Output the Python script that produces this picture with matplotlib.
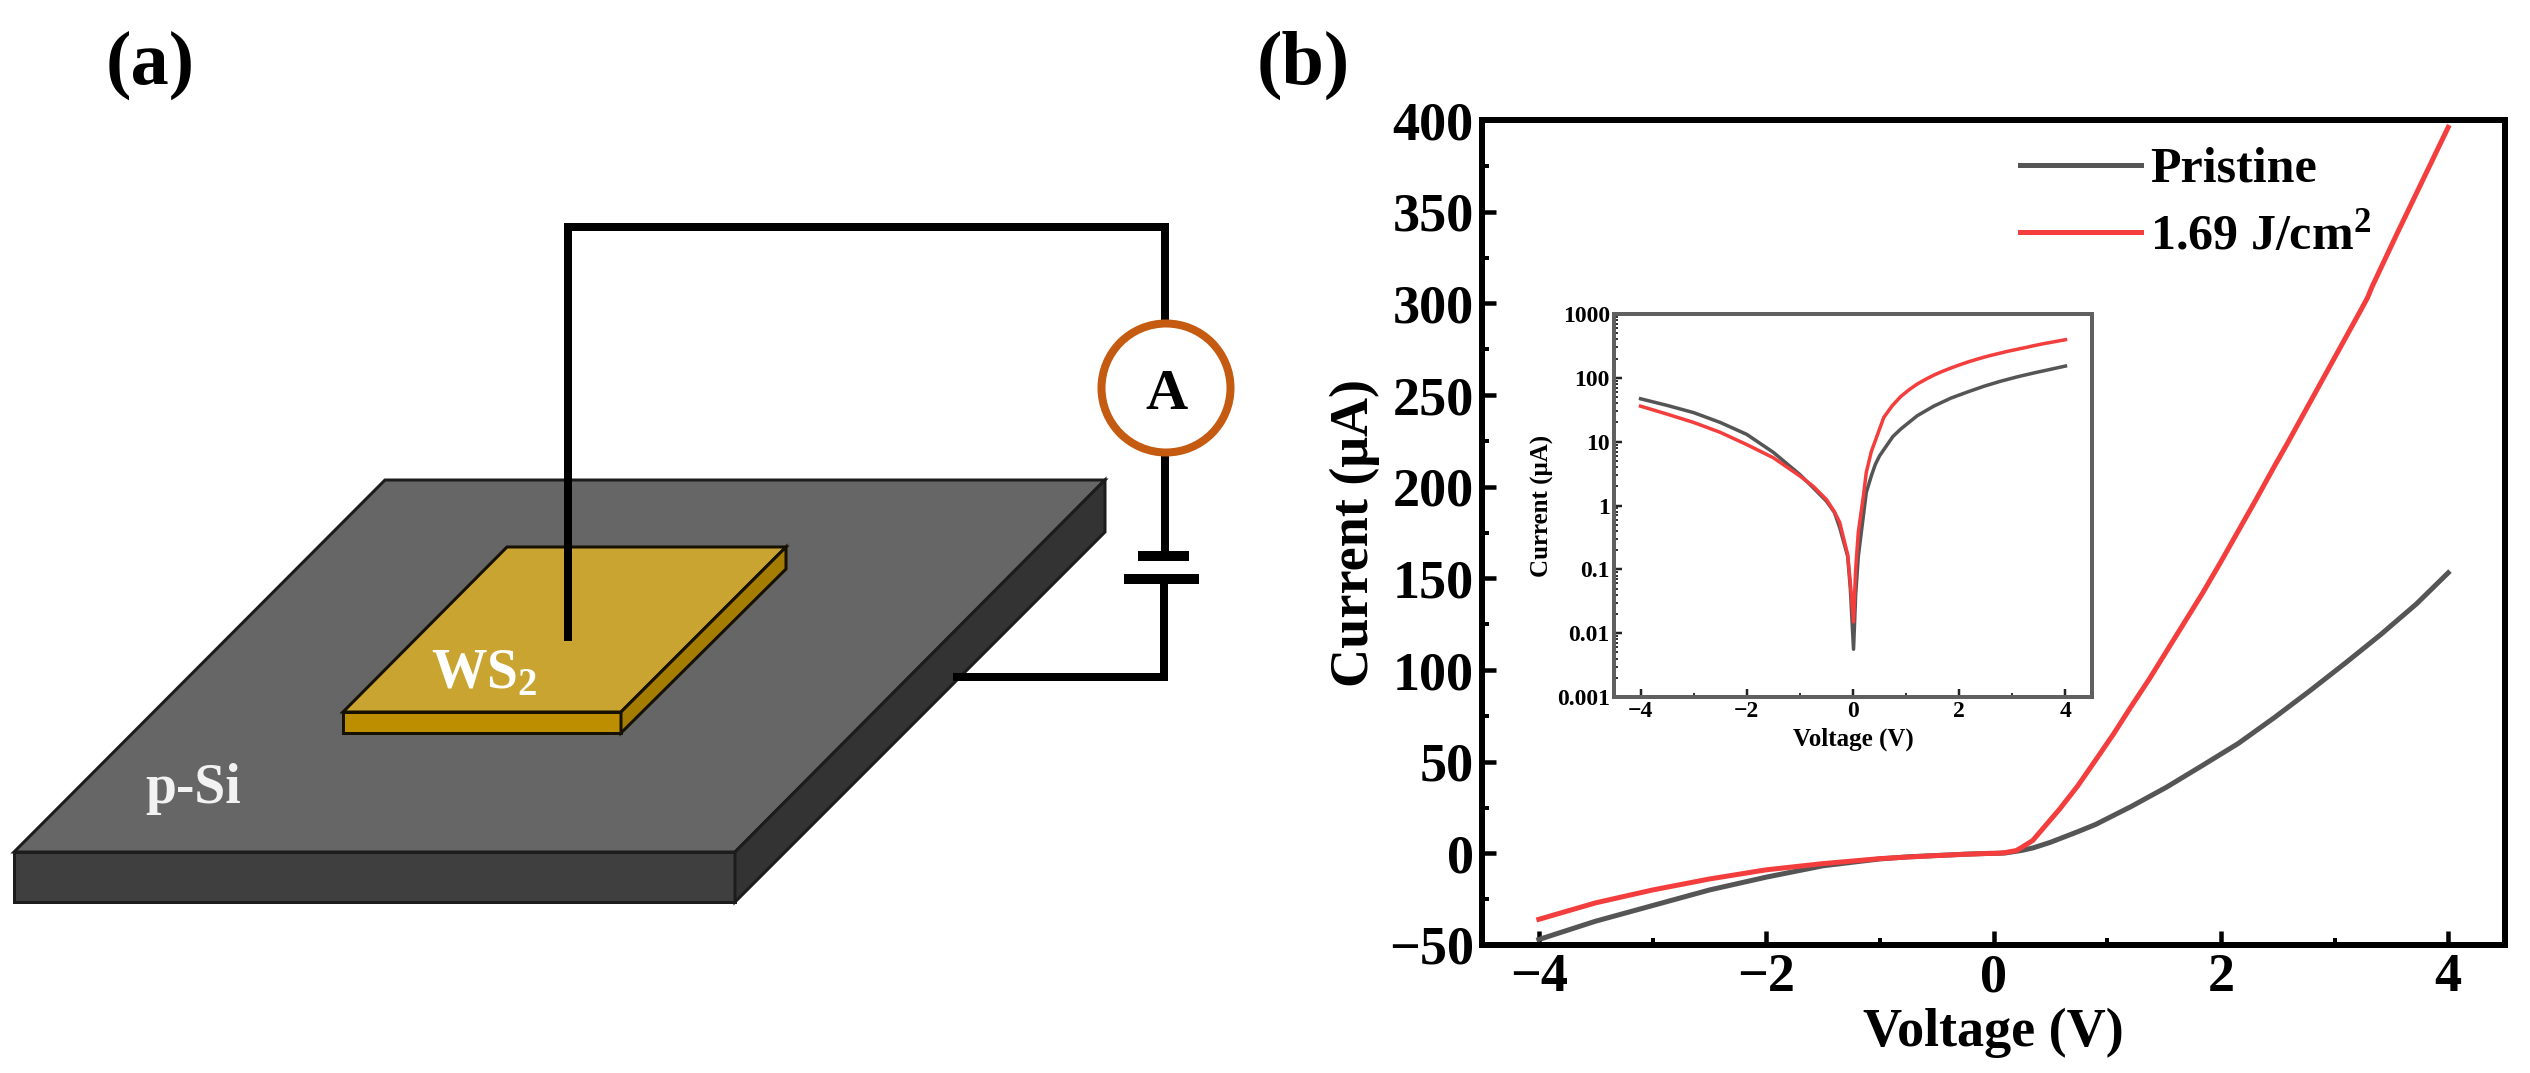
import numpy as np
import matplotlib.pyplot as plt
from matplotlib.patches import Polygon, Circle, Rectangle

plt.rcParams['font.family'] = ['Liberation Serif', 'DejaVu Sans']
plt.rcParams['font.weight'] = 'bold'
plt.rcParams['axes.labelweight'] = 'bold'
plt.rcParams['mathtext.fontset'] = 'custom'
plt.rcParams['mathtext.rm'] = 'Liberation Serif:bold'
plt.rcParams['mathtext.bf'] = 'Liberation Serif:bold'
plt.rcParams['mathtext.default'] = 'bf'

W, H = 2530, 1073
PX = 0.72  # one pixel in points at dpi 100

# I-V data (uA)
v_pristine = [-4, -3.5, -3, -2.5, -2, -1.5, -1, -0.75, -0.5, -0.35, -0.25, -0.1, -0.05, 0.01, 0.05,
              0.1, 0.25, 0.35, 0.42, 0.5, 0.75, 0.9, 1.21, 1.52, 1.84, 2.155, 2.47, 2.78, 3.1,
              3.41, 3.72, 4]
i_pristine = [-47, -37, -28.5, -20, -13, -6.8, -3.05, -1.9, -1.17, -0.78, -0.45, -0.16, -0.05,
              -0.0056, 0.04, 0.16, 1.6, 3, 4.4, 6, 12, 15.8, 25.5, 36, 48, 60, 74, 88.5, 104,
              119.5, 136, 153]
v_treated = [-4, -3.5, -3, -2.5, -2, -1.5, -1, -0.75, -0.5, -0.35, -0.25, -0.1, -0.05, 0.01, 0.05,
             0.1, 0.2, 0.25, 0.345, 0.58, 0.74, 0.9, 1.055, 1.21, 1.37, 1.52, 1.68, 1.84, 2,
             2.155, 2.31, 2.47, 2.58, 2.9, 3.22, 3.29, 3.33, 3.55, 4]
i_treated = [-36, -27, -20, -14, -9, -5.6, -2.9, -2, -1.24, -0.8, -0.54, -0.17, -0.06, -0.015, 0.1,
             0.38, 1.5, 3.3, 7, 24, 36.7, 51, 65, 80, 95, 110, 126, 142, 159, 176, 193, 211, 223,
             259, 295, 303, 309, 338, 396]

labels = ['Pristine', '1.69 J/cm$^{2}$']
gray = '#555555'
red = '#f43d3d'

# schematic geometry of panel (a), pixels of the picture
plate_top = [(385, 480), (1105, 480), (735, 852), (14, 852)]
plate_front = [(14, 852), (735, 852), (735, 902), (14, 902)]
plate_side = [(735, 852), (1105, 480), (1105, 532), (735, 902)]
ws2_top = [(507, 547), (786, 547), (621, 712), (343, 712)]
ws2_front = [(343, 712), (621, 712), (621, 733), (343, 733)]
ws2_side = [(621, 712), (786, 547), (786, 569), (621, 733)]
wire_upper = [(568, 641), (568, 227), (1165, 227), (1165, 551)]
wire_lower = [(1164, 580), (1164, 677), (953, 677)]

fig = plt.figure(figsize=(W / 100, H / 100), dpi=100)

# panel (a) in picture pixels
bg = fig.add_axes([0, 0, 1, 1])
bg.set_xlim(0, W)
bg.set_ylim(H, 0)
bg.axis('off')

for pts, col in [(plate_top, '#666666'), (plate_front, '#3f3f3f'), (plate_side, '#333333')]:
    bg.add_patch(Polygon(pts, closed=True, fc=col, ec='#1c1c1c', lw=3 * PX, joinstyle='miter'))
for pts, col in [(ws2_top, '#c9a430'), (ws2_front, '#bd8f00'), (ws2_side, '#a37c00')]:
    bg.add_patch(Polygon(pts, closed=True, fc=col, ec='#151000', lw=3 * PX, joinstyle='miter'))

for wire in (wire_upper, wire_lower):
    xs, ys = zip(*wire)
    bg.plot(xs, ys, color='black', lw=8 * PX, solid_capstyle='butt', solid_joinstyle='miter')

# battery plates
bg.add_patch(Rectangle((1138, 551), 51, 10, fc='black', ec='none'))
bg.add_patch(Rectangle((1124, 574), 75, 10, fc='black', ec='none'))

# ammeter
bg.add_patch(Circle((1166, 388), 64.5, fc='white', ec='#c55a11', lw=8 * PX, zorder=5))
bg.text(1166, 409, 'A', fontsize=42, ha='center', va='baseline', zorder=6)

bg.text(431, 688, 'WS$_{2}$', fontsize=40, color='white', ha='left', va='baseline')
bg.text(145, 803, 'p-Si', fontsize=40, color='#f2f2f2', ha='left', va='baseline')
bg.text(150, 84, '(a)', fontsize=55, ha='center', va='baseline')
bg.text(1303, 84, '(b)', fontsize=55, ha='center', va='baseline')

# panel (b)
ax = fig.add_axes([1482 / W, 1 - 945 / H, (2505 - 1482) / W, (945 - 120) / H])
ax.patch.set_alpha(0)
ax.plot(v_pristine, i_pristine, color=gray, lw=5 * PX, label=labels[0])
ax.plot(v_treated, i_treated, color=red, lw=5 * PX, label=labels[1])
ax.set_xlim(-4.5, 4.5)
ax.set_ylim(-50, 400)
ax.set_xticks([-4, -2, 0, 2, 4])
ax.set_xticks([-3, -1, 1, 3], minor=True)
ax.set_yticks(np.arange(-50, 401, 50))
ax.set_yticks(np.arange(-25, 400, 50), minor=True)
ax.tick_params(which='major', direction='in', length=14 * PX, width=4.5 * PX, labelsize=39, pad=6)
ax.tick_params(which='minor', direction='in', length=7 * PX, width=4 * PX)
for s in ax.spines.values():
    s.set_linewidth(6 * PX)
ax.set_xlabel('Voltage (V)', fontsize=39, labelpad=3)
ax.set_ylabel('Current (μA)', fontsize=39, labelpad=6)

ax.legend(loc='upper left', bbox_to_anchor=(2020 / W, 1 - 147 / H), bbox_transform=fig.transFigure,
          frameon=False, fontsize=36, handlelength=2.42, handletextpad=0.18, labelspacing=0.42,
          borderpad=0, borderaxespad=0)

# inset, log scale of |I|
ins = fig.add_axes([1614 / W, 1 - 697 / H, (2092 - 1614) / W, (697 - 314) / H])
ins.plot(v_pristine, np.abs(i_pristine), color=gray, lw=3.5 * PX)
ins.plot(v_treated, np.abs(i_treated), color=red, lw=3.5 * PX)
ins.set_yscale('log')
ins.set_xlim(-4.5, 4.5)
ins.set_ylim(0.001, 1000)
ins.set_xticks([-4, -2, 0, 2, 4])
ins.set_xticks([-3, -1, 1, 3], minor=True)
ins.set_yticks([0.001, 0.01, 0.1, 1, 10, 100, 1000])
ins.set_yticklabels(['0.001', '0.01', '0.1', '1', '10', '100', '1000'])
ins.yaxis.set_minor_locator(plt.LogLocator(base=10, subs=np.arange(2, 10), numticks=12))
ins.yaxis.set_minor_formatter(plt.NullFormatter())
ins.tick_params(which='major', direction='in', length=8 * PX, width=2.5 * PX, labelsize=17, pad=3, color='#222222')
ins.tick_params(which='minor', direction='in', length=4 * PX, width=2 * PX, color='#333333')
for s in ins.spines.values():
    s.set_linewidth(4 * PX)
    s.set_color('#606060')
ins.set_xlabel('Voltage (V)', fontsize=18, labelpad=4)
ins.set_ylabel('Current (μA)', fontsize=18, labelpad=2)

fig.savefig('out.png', dpi=100)
